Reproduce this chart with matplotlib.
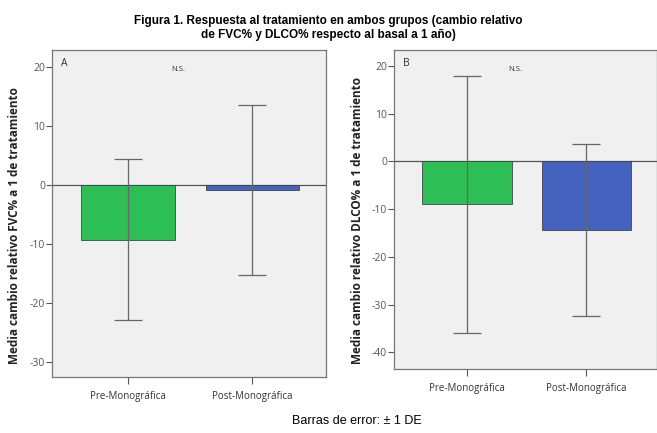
import matplotlib
matplotlib.use("Agg")
import matplotlib.pyplot as plt

# datos (media y DE)
grupos = ["Pre-Monográfica", "Post-Monográfica"]
fvc_media = [-9.2, -0.75]
fvc_de = [13.6, 14.45]
dlco_media = [-9.0, -14.4]
dlco_de = [27.0, 18.1]
colores = ["#2dbe55", "#4563be"]

plt.rcParams['font.family'] = ['Open Sans', 'DejaVu Sans']
plt.rcParams['axes.unicode_minus'] = False

fig = plt.figure(figsize=(6.57, 4.33), dpi=100)

fig.text(0.5, 0.965, "Figura 1. Respuesta al tratamiento en ambos grupos (cambio relativo\n"
         "de FVC% y DLCO% respecto al basal a 1 año)",
         ha="center", va="top", fontsize=8.5, fontweight="bold",
         family="Liberation Sans", linespacing=1.25)


def panel(ax, media, de, ylim, yticks, letra, ylabel, lx):
    x = range(len(grupos))
    ax.set_facecolor("#f0f0f0")
    ax.bar(x, media, width=0.75, color=colores, edgecolor="#444444", linewidth=0.6, zorder=2)
    ax.errorbar(x, media, yerr=de, fmt="none", ecolor="#666666", elinewidth=0.9,
                capsize=10, capthick=0.9, zorder=3)
    ax.axhline(0, color="#555555", linewidth=0.9, zorder=1)
    ax.set_xlim(-0.61, 1.59)
    ax.set_ylim(*ylim)
    ax.set_yticks(yticks)
    ax.set_xticks(list(x))
    ax.set_xticklabels(grupos, fontsize=7, color="#333333")
    ax.tick_params(axis="y", labelsize=7.5, colors="#555555", length=4, width=0.8, pad=1)
    ax.tick_params(axis="x", length=5, width=0.8, color="#555555", pad=5)
    for s in ax.spines.values():
        s.set_color("#777777")
        s.set_linewidth(0.9)
    ax.text(0.035, 0.975, letra, transform=ax.transAxes, fontsize=7.5, va="top", color="#333333")
    ax.text(0.46, 0.94, "N.S.", transform=ax.transAxes, fontsize=5.5, va="center", ha="center",
            color="#333333")
    ax.set_ylabel(ylabel, fontsize=8.5, fontweight="bold", color="#222222", va="center")
    ax.yaxis.set_label_coords(lx, 0.465)


ax1 = fig.add_axes([0.079, 0.129, 0.417, 0.755])
panel(ax1, fvc_media, fvc_de, (-32.5, 22.9), [-30, -20, -10, 0, 10, 20], "A",
      "Media cambio relativo FVC% a 1 de tratamiento", -0.138)

ax2 = fig.add_axes([0.5997, 0.148, 0.40, 0.736])
panel(ax2, dlco_media, dlco_de, (-43.5, 23.3), [-40, -30, -20, -10, 0, 10, 20], "B",
      "Media cambio relativo DLCO% a 1 de tratamiento", -0.137)

fig.text(0.543, 0.028, "Barras de error: ± 1 DE", ha="center", va="center",
         fontsize=9, family="Liberation Sans")

fig.savefig("out.png", dpi=100)
